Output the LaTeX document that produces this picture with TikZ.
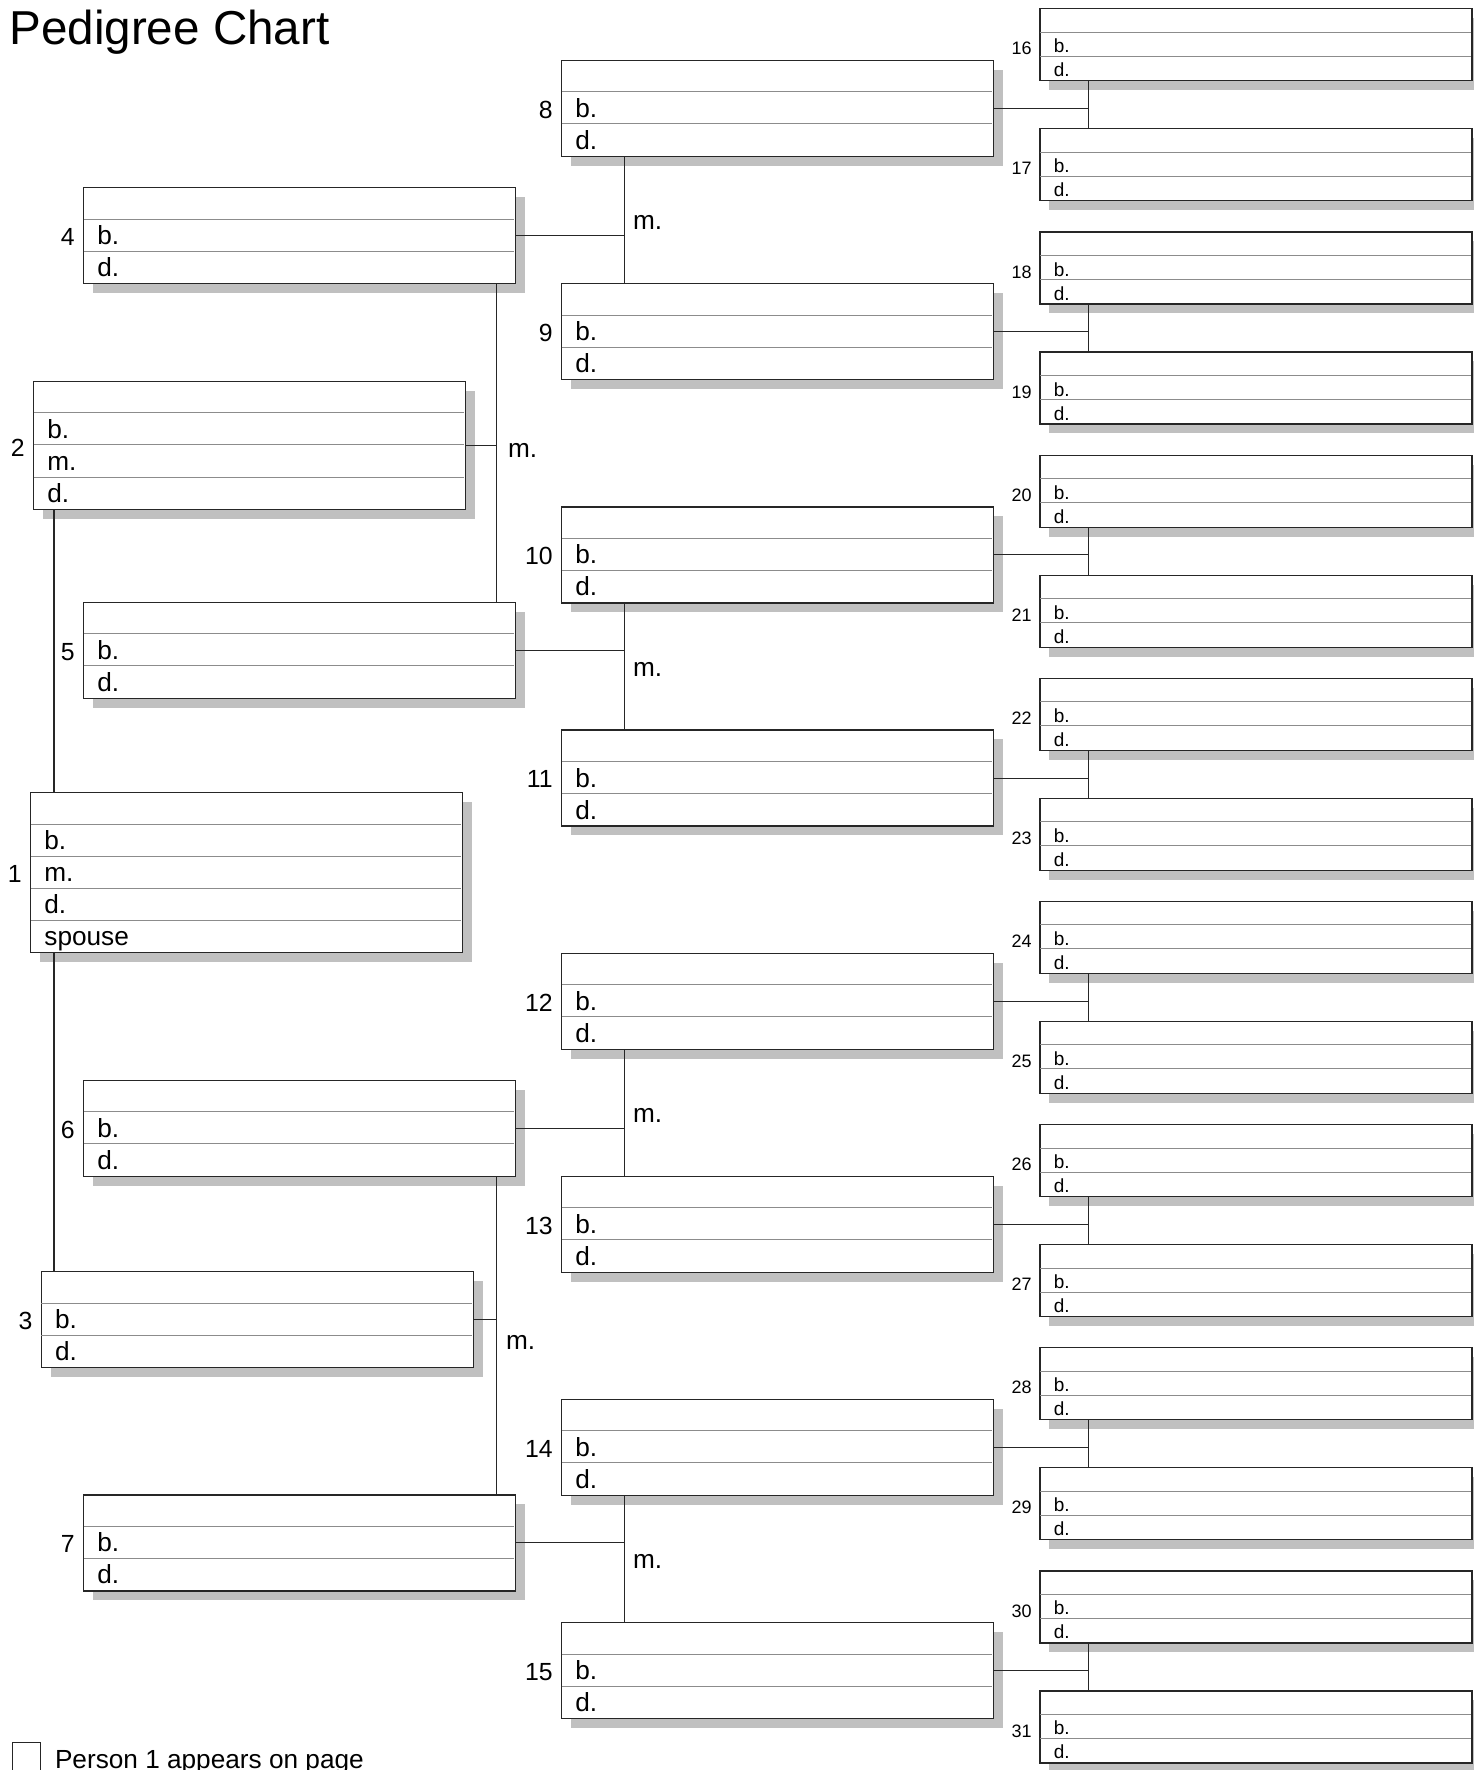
\documentclass[tikz,border=0pt]{standalone}
\usepackage{fontspec}
\setmainfont{Liberation Sans}
\usetikzlibrary{calc,positioning}
\definecolor{shadowgray}{RGB}{192,192,192}
\definecolor{rulegray}{RGB}{140,140,140}

\begin{document}
\begin{tikzpicture}[x=0.5pt, y=-0.5pt,
  box/.style={draw=black!85, line width=0.6pt, fill=white, anchor=north west,
    inner sep=0pt, minimum width=216pt},
  shade/.style={fill=shadowgray},
  row/.style={draw=rulegray, line width=0.5pt},
  link/.style={draw=black!85, line width=0.55pt},
  lbl/.style={anchor=base west, inner sep=0pt, font=\fontsize{13.1}{15}\selectfont},
  slbl/.style={anchor=base west, inner sep=0pt, font=\fontsize{9.5}{11}\selectfont},
  num/.style={anchor=east, inner sep=0pt, font=\fontsize{12.4}{14}\selectfont},
  snum/.style={anchor=east, inner sep=0pt, font=\fontsize{9}{10}\selectfont},
  mlbl/.style={anchor=west, inner sep=0pt, font=\fontsize{13.1}{15}\selectfont}]
\useasboundingbox[fill=white] (0,0) rectangle (1473,1770);

%--- titolo
\node[anchor=base west, inner sep=0pt, font=\fontsize{23.8}{28}\selectfont] (title) at (9,45) {Pedigree Chart};

%--- persona 2
\fill[shade] (43,391) rectangle ++(432,128);
\node[box, minimum height=64pt] (p2) at (33,381) {};
\foreach \r in {32,64,96}{
  \draw[row] (33.6,381+\r) -- ++(430.8,0);
}
\node[lbl] at (47,438.6) {b.};
\node[lbl] at (47,470.6) {m.};
\node[lbl] at (47,502.6) {d.};
\node[num] at (25,448) {2};

%--- persona 1
\fill[shade] (40,802) rectangle ++(432,160);
\node[box, minimum height=80pt] (p1) at (30,792) {};
\foreach \r in {32,64,96,128}{
  \draw[row] (30.6,792+\r) -- ++(430.8,0);
}
\node[lbl] at (44,849.6) {b.};
\node[lbl] at (44,881.6) {m.};
\node[lbl] at (44,913.6) {d.};
\node[lbl] at (44,945.6) {spouse};
\node[num] at (22,874) {1};

%--- persona 3
\fill[shade] (50.7,1281) rectangle ++(432,96);
\node[box, minimum height=48pt] (p3) at (40.7,1271) {};
\foreach \r in {32,64}{
  \draw[row] (41.3,1271+\r) -- ++(430.8,0);
}
\node[lbl] at (54.7,1328.6) {b.};
\node[lbl] at (54.7,1360.6) {d.};
\node[num] at (32.7,1321) {3};

%--- nonni (4-7)
\foreach \n/\y in {4/187.3,5/601.7,6/1079.7,7/1494.3}{
  \fill[shade] (93,\y+10) rectangle ++(432,96);
  \node[box, minimum height=48pt] (p\n) at (83,\y) {};
  \draw[row] (83.6,\y+32) -- ++(430.8,0);
  \draw[row] (83.6,\y+64) -- ++(430.8,0);
  \node[lbl] at (97,\y+57.6) {b.};
  \node[lbl] at (97,\y+89.6) {d.};
  \node[num] at (75,\y+50) {\n};
}

%--- bisnonni (8-15)
\foreach \n [evaluate=\n as \y using {60+223.15*(\n-8)}] in {8,...,15}{
  \fill[shade] (571,\y+10) rectangle ++(432,96);
  \node[box, minimum height=48pt] (p\n) at (561,\y) {};
  \draw[row] (561.6,\y+32) -- ++(430.8,0);
  \draw[row] (561.6,\y+64) -- ++(430.8,0);
  \node[lbl] at (575,\y+57.6) {b.};
  \node[lbl] at (575,\y+89.6) {d.};
  \node[num] at (553,\y+50) {\n};
}

%--- trisnonni (16-31)
\foreach \n [evaluate=\n as \y using {8.3+223.15*int((\n-16)/2)+120*mod(\n,2)}] in {16,...,31}{
  \fill[shade] (1049.3,\y+10) rectangle ++(432.4,72);
  \node[box, minimum height=36pt] (p\n) at (1039.3,\y) {};
  \draw[row] (1039.9,\y+24) -- ++(431.2,0);
  \draw[row] (1039.9,\y+48) -- ++(431.2,0);
  \node[slbl] at (1053.5,\y+44.6) {b.};
  \node[slbl] at (1053.5,\y+68.6) {d.};
  \node[snum] at (1032,\y+40.5) {\n};
}

%--- linee: persona 1 con i genitori
\draw[link] ([xshift=12pt]p1.north west) -- ([xshift=12pt]p1.north west |- p2.south);
\draw[link] ([xshift=12pt]p1.south west) -- ([xshift=12pt]p1.south west |- p3.north);

% genitori 2 e 3
\draw[link] ([xshift=-9.8pt]p4.south east) coordinate (v4) -- (v4 |- p5.north);
\draw[link] (p2.east) -- (p2.east -| v4);
\node[mlbl] (m4) at ($(v4)!0.5!(v4 |- p5.north) + (11,7)$) {m.};
\draw[link] ([xshift=-9.8pt]p6.south east) coordinate (v6) -- (v6 |- p7.north);
\draw[link] (p3.east) -- (p3.east -| v6);
\node[mlbl] (m6) at ($(v6)!0.5!(v6 |- p7.north) + (9,7)$) {m.};

% nonni
\foreach \a/\b/\c in {8/9/4,10/11/5,12/13/6,14/15/7}{
  \draw[link] ([xshift=31.85pt]p\a.south west) coordinate (v\a) -- (v\a |- p\b.north);
  \draw[link] (p\c.east) -- (p\c.east -| v\a);
  \node[mlbl] (m\a) at ($(v\a)!0.5!(v\a |- p\b.north) + (8,2.5)$) {m.};
}

% bisnonni
\foreach \a [evaluate=\a as \b using int(\a+1), evaluate=\a as \c using int(\a/2)] in {16,18,...,30}{
  \draw[link] ([xshift=24.6pt]p\a.south west) coordinate (v\a) -- (v\a |- p\b.north);
  \draw[link] (p\c.east) -- (p\c.east -| v\a);
}

%--- nota in fondo
\node[draw=black!85, line width=0.55pt, anchor=north west, minimum size=14pt, inner sep=0pt] (check) at (11.5,1741.5) {};
\node[lbl, right=7pt of check.north east, anchor=base west, yshift=-13.3pt] (foot) {Person 1 appears on page};
\end{tikzpicture}
\end{document}
